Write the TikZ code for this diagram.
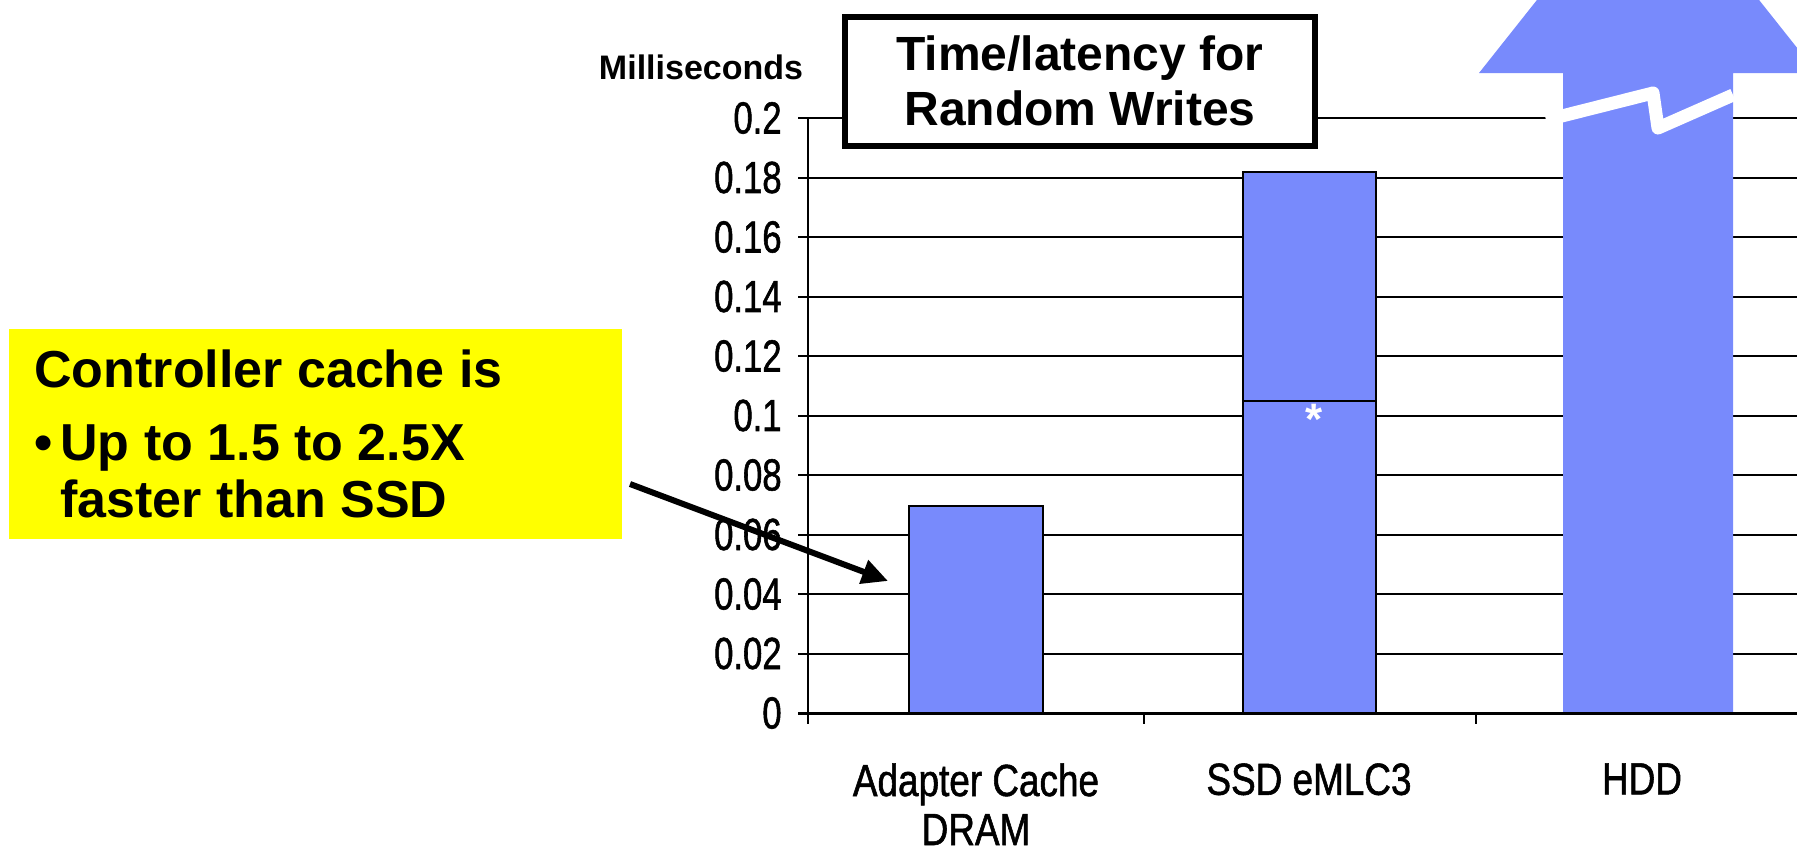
\documentclass[tikz,border=0pt]{standalone}
\usepackage{fontspec}
\setmainfont{Liberation Sans}
\newfontfamily\tickfont[FakeStretch=0.77,FakeBold=1.2]{Liberation Sans}
\newfontfamily\catfont[FakeStretch=0.82,FakeBold=1.2]{Liberation Sans}
\usetikzlibrary{arrows.meta,positioning}
\definecolor{barblue}{RGB}{120,138,252}
\definecolor{noteyellow}{RGB}{255,255,0}

\begin{document}
\begin{tikzpicture}[x=0.5pt, y=-0.5pt,
    gridline/.style={black, line width=1pt},
    barbox/.style={fill=barblue, draw=black, line width=1pt},
    ticklabel/.style={anchor=east, inner sep=0pt, font=\tickfont\fontsize{22.5}{22.5}\selectfont},
    catlabel/.style={anchor=north, inner sep=0pt, align=center, font=\catfont\fontsize{22.5}{24.5}\selectfont},
    notetext/.style={anchor=base west, inner sep=0pt, font=\bfseries\fontsize{26}{26}\selectfont}]
    \useasboundingbox (0,0) rectangle (1797,851);

    % Gridlines and value labels
    \foreach \k/\lab in {0/0,1/0.02,2/0.04,3/0.06,4/0.08,5/0.1,6/0.12,7/0.14,8/0.16,9/0.18,10/0.2} {
        \draw[gridline] (798,{713-59.5*\k}) -- (1797,{713-59.5*\k});
        \node[ticklabel] (tick\k) at (782,{713-59.5*\k}) {\lab};
    }
    \node[anchor=base, inner sep=0pt, font=\bfseries\fontsize{17}{17}\selectfont] (unit) at (701,79) {Milliseconds};

    % Bars
    \draw[barbox] (909,713) rectangle (1043,506);
    \draw[barbox] (1243,713) rectangle (1376,172);
    \draw[gridline] (1243,401) -- (1376,401);
    \node[anchor=base, inner sep=0pt, white, font=\bfseries\fontsize{22}{22}\selectfont] (star) at (1314,434) {*};

    % HDD bar, off the scale
    \begin{scope}
        \clip (0,0) rectangle (1797,851);
        \fill[barblue] (1563,713) -- (1563,73) -- (1479,73) -- (1648,-140) -- (1817,73)
            -- (1733,73) -- (1733,713) -- cycle;
        \draw[white, line width=6.5pt, line join=round] (1546,120) -- (1653,93) -- (1658,128) -- (1733,95);
    \end{scope}

    % Axes
    \draw[black, line width=1.5pt] (798,713) -- (1797,713);
    \draw[gridline] (808,118) -- (808,724);
    \foreach \x in {1144,1476} {
        \draw[gridline] (\x,713) -- (\x,724);
    }
    \node[catlabel] (cat1) at (976,763) {Adapter Cache\\DRAM};
    \node[catlabel] (cat2) at (1309,763) {SSD eMLC3};
    \node[catlabel] (cat3) at (1642,763) {HDD};

    % Title
    \node[draw=black, fill=white, line width=3pt, minimum width=235pt, minimum height=64.5pt,
        align=center, font=\bfseries\fontsize{24}{27.5}\selectfont] (title) at (1080,81)
        {Time/latency for\\Random Writes};

    % Note
    \node[fill=noteyellow, minimum width=306.5pt, minimum height=105pt, inner sep=0pt] (note) at (315.5,434) {};
    \node[notetext] (note1) at (34,387) {Controller cache is};
    \node[notetext] (dot) at (34,460) {\textbullet};
    \node[notetext] (note2) at (60,460) {Up to 1.5 to 2.5X};
    \node[notetext] (note3) at (60,517) {faster than SSD};

    \coordinate (arrowtail) at (630,484);
    \coordinate (arrowtip) at (888,581);
    \draw[line width=3pt, -{Triangle[length=13pt,width=12pt]}] (arrowtail) -- (arrowtip);
\end{tikzpicture}
\end{document}
